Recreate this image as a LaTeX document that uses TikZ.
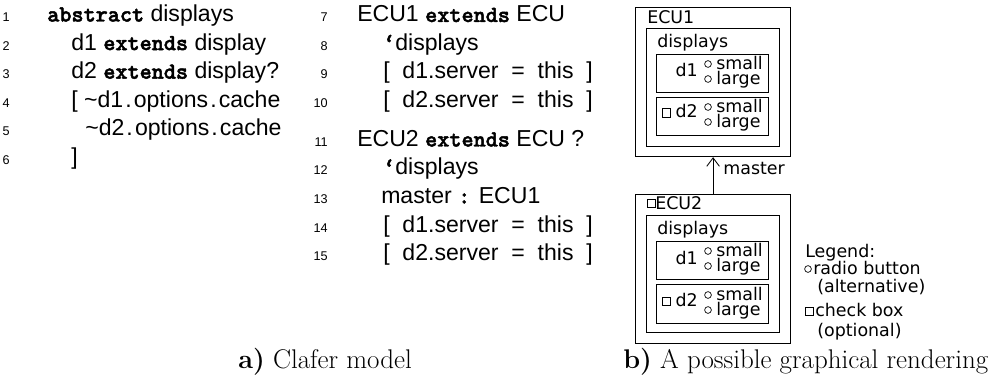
\documentclass[tikz,border=0pt]{standalone}
\usepackage{fontspec}
\newfontfamily\codefont{Liberation Sans}
\newfontfamily\guifont{DejaVu Sans}
\newfontfamily\kwfont{lmmonolt10-bold}[Extension=.otf,FakeBold=2]
\usetikzlibrary{arrows.meta}
\newcommand\kw[1]{{\kwfont #1}}
\newcommand\dsp{\ \ }
\begin{document}
\begin{tikzpicture}[x=0.025cm,y=-0.025cm,
  code/.style={anchor=base west,inner sep=0pt,font=\fontsize{16.4}{19}\codefont},
  lnum/.style={anchor=base east,inner sep=0pt,font=\fontsize{9}{11}\codefont},
  gui/.style={anchor=base west,inner sep=0pt,font=\fontsize{12.4}{14}\guifont},
  opts/.style={gui,align=left,font=\fontsize{12.4}{10.7}\guifont},
  panel/.style={draw,line width=0.8pt,anchor=north west,inner sep=0pt},
  radio/.style={draw,circle,line width=0.5pt,inner sep=0pt,minimum size=4.8pt},
  check/.style={draw,line width=0.6pt,inner sep=0pt,minimum size=5.8pt},
  caption/.style={anchor=base west,inner sep=0pt,font=\fontsize{19.2}{22}\selectfont}]
\useasboundingbox (0,0) rectangle (992,380);
% a) listing, line numbers
\foreach \i in {1,...,6}
  \node[lnum] (n\i) at (10,{21.5+28.6*(\i-1)}) {\i};
\foreach \i in {7,...,10}
  \node[lnum] (n\i) at (328,{22+28.5*(\i-7)}) {\i};
\foreach \i in {11,...,15}
  \node[lnum] (n\i) at (328,{146.5+28.5*(\i-11)}) {\i};
% abstract displays
\node[code] (l1) at (47,21.5) {\kw{abstract} displays};
\node[code] (l2) at (71,50.1) {d1 \kw{extends} display};
\node[code] (l3) at (71,78.7) {d2 \kw{extends} display?};
\node[code] (l4) at (71,107.3) {[ {\char`\~}d1\hspace{1.5pt}.\hspace{1.5pt}options\hspace{1.5pt}.\hspace{1.5pt}cache};
\node[code] (l5) at (85,135.9) {{\char`\~}d2\hspace{1.5pt}.\hspace{1.5pt}options\hspace{1.5pt}.\hspace{1.5pt}cache};
\node[code] (l6) at (71,164.5) {]};
% ECU1, ECU2
\node[code] (l7) at (357,22) {ECU1 \kw{extends} ECU};
\node[code] (l8) at (383,50.5) {\kw{‘}displays};
\node[code] (l9) at (383,79) {[\dsp d1.server\dsp =\dsp this\dsp ]};
\node[code] (l10) at (383,107.5) {[\dsp d2.server\dsp =\dsp this\dsp ]};
\node[code] (l11) at (357,146.5) {ECU2 \kw{extends} ECU ?};
\node[code] (l12) at (383,175) {\kw{‘}displays};
\node[code] (l13) at (381,203.5) {master \kw{:} ECU1};
\node[code] (l14) at (383,232) {[\dsp d1.server\dsp =\dsp this\dsp ]};
\node[code] (l15) at (383,260.5) {[\dsp d2.server\dsp =\dsp this\dsp ]};
% b) rendering: ECU1
\node[panel,minimum width=3.875cm,minimum height=3.725cm] (ecuA) at (635,7) {};
\node[gui] (ecuAname) at (647,24) {ECU1};
\node[panel,minimum width=3.325cm,minimum height=2.95cm] (dspA) at (646,28) {};
\node[gui] (dspAname) at (657,48) {displays};
\node[panel,minimum width=2.8cm,minimum height=0.95cm] (dA1) at (656,54) {};
\node[gui,anchor=base east] (dA1name) at (698,77) {d1};
\node[radio] (rA1s) at (708,64) {};
\node[radio] (rA1l) at (708,79) {};
\node[opts] (A1) at (716,84.5) {small\\large};
\node[panel,minimum width=2.8cm,minimum height=0.95cm] (dA2) at (656,97) {};
\node[check] (cA2) at (666,113) {};
\node[gui,anchor=base east] (dA2name) at (698,118) {d2};
\node[radio] (rA2s) at (708,107) {};
\node[radio] (rA2l) at (708,122) {};
\node[opts] (A2) at (716,127.5) {small\\large};
% ECU2
\node[panel,minimum width=3.875cm,minimum height=3.725cm] (ecuB) at (635,194) {};
\node[check] (cB) at (651,203.5) {};
\node[gui] (ecuBname) at (655,209) {ECU2};
\node[panel,minimum width=3.325cm,minimum height=2.925cm] (dspB) at (646,215) {};
\node[gui] (dspBname) at (657,234) {displays};
\node[panel,minimum width=2.8cm,minimum height=0.95cm] (dB1) at (656,241) {};
\node[gui,anchor=base east] (dB1name) at (698,264) {d1};
\node[radio] (rB1s) at (708,251) {};
\node[radio] (rB1l) at (708,266) {};
\node[opts] (B1) at (716,271.5) {small\\large};
\node[panel,minimum width=2.8cm,minimum height=0.975cm] (dB2) at (656,284) {};
\node[check] (cB2) at (666,301) {};
\node[gui,anchor=base east] (dB2name) at (698,306) {d2};
\node[radio] (rB2s) at (708,295) {};
\node[radio] (rB2l) at (708,310) {};
\node[opts] (B2) at (716,315.5) {small\\large};
% master reference
\draw[line width=0.6pt,-{Straight Barb[length=6pt,width=9pt]}] (ecuB.north) -- (ecuA.south)
  node[gui,pos=0.5,xshift=7pt,yshift=0.7pt] {master};
% legend
\node[gui] (leg) at (805,257) {Legend:};
\node[radio] (legr) at (808,269) {};
\node[gui] (legrt) at (813,274) {radio button};
\node[gui] (legra) at (817,292) {(alternative)};
\node[check] (legc) at (809,311.5) {};
\node[gui] (legct) at (815,316) {check box};
\node[gui] (legco) at (817,336) {(optional)};
% captions
\node[caption] (capa) at (238,368) {\textbf{a)} Clafer model};
\node[caption] (capb) at (623,368) {\textbf{b)} A possible graphical rendering};
\end{tikzpicture}
\end{document}
